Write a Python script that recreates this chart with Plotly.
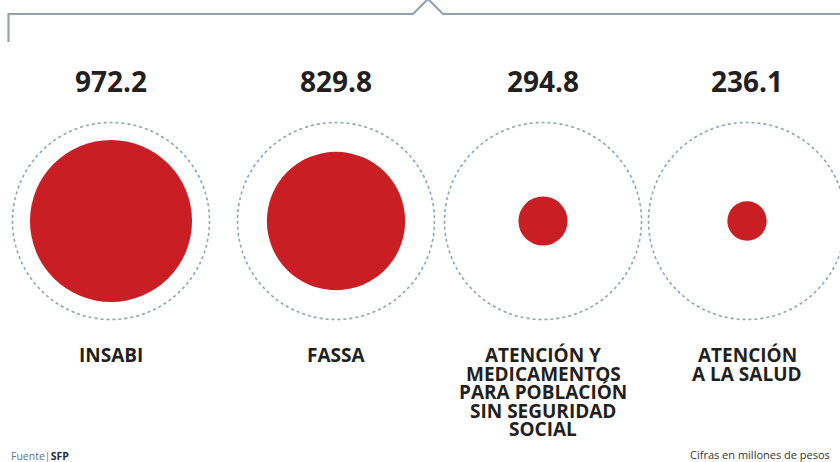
import plotly.graph_objects as go

# ---- data ----
categories = ["INSABI", "FASSA",
              "ATENCIÓN Y<br>MEDICAMENTOS<br>PARA POBLACIÓN<br>SIN SEGURIDAD<br>SOCIAL",
              "ATENCIÓN<br>A LA SALUD"]
values = [972.2, 829.8, 294.8, 236.1]
value_labels = ["972.2", "829.8", "294.8", "236.1"]
source_text = "Fuente<span style='color:#e8505b'>|</span><b style='color:#1f2a44'>SFP</b>"
note_text = "Cifras en millones de pesos"

# ---- layout constants ----
W, H = 840, 462
x_pos = [111, 336, 543, 747]
cy = 221
value_y = 85
label_y0 = 355
label_dy = 18.6
px_per_unit = 1 / 6.0          # red circle diameter (px) per million pesos
outer_r = 98.5
RED = "#c91f24"
GREY = "#8fa3b3"
DARK = "#231f20"
FONT = "Open Sans"

fig = go.Figure()

# red circles (diameter proportional to value)
fig.add_trace(go.Scatter(
    x=x_pos, y=[cy] * len(values), mode="markers",
    marker=dict(size=[v * px_per_unit for v in values], sizemode="diameter",
                color=RED, opacity=1, line=dict(width=0)),
    hoverinfo="skip", showlegend=False))

# value labels
fig.add_trace(go.Scatter(
    x=x_pos, y=[value_y] * len(values), mode="text", text=value_labels,
    textfont=dict(family=FONT, size=28, color=DARK, weight="bold"),
    textposition="middle center", hoverinfo="skip", showlegend=False))

shapes = []
# dotted outer rings
for xc in x_pos:
    shapes.append(dict(type="circle", xref="x", yref="y",
                       xsizemode="pixel", ysizemode="pixel",
                       xanchor=xc, yanchor=cy,
                       x0=-outer_r, x1=outer_r, y0=-outer_r, y1=outer_r,
                       line=dict(color=GREY, width=1.6, dash="dot")))
# bracket at the top
shapes.append(dict(type="path", xref="x", yref="y",
                   path="M 8.5 42 L 8.5 14 L 413 14 L 428 -1 L 443 14 L 850 14",
                   line=dict(color=GREY, width=2.2)))

annotations = []
for xc, cat in zip(x_pos, categories):
    for i, line in enumerate(cat.split("<br>")):
        annotations.append(dict(x=xc, y=label_y0 + i * label_dy, xref="x", yref="y",
                                text=line, showarrow=False,
                                xanchor="center", yanchor="middle",
                                font=dict(family=FONT, size=19, color=DARK, weight="bold")))
annotations.append(dict(x=9, y=456, xref="x", yref="y", text=source_text,
                        showarrow=False, xanchor="left", yanchor="middle",
                        font=dict(family=FONT, size=10.5, color="#5d6f8c")))
annotations.append(dict(x=688, y=454, xref="x", yref="y", text=note_text,
                        showarrow=False, xanchor="left", yanchor="middle",
                        font=dict(family=FONT, size=11, color="#333333")))

fig.update_layout(
    width=W, height=H, margin=dict(l=0, r=0, t=0, b=0),
    paper_bgcolor="white", plot_bgcolor="white",
    xaxis=dict(range=[0, W], visible=False, fixedrange=True),
    yaxis=dict(range=[H, 0], visible=False, fixedrange=True),
    shapes=shapes, annotations=annotations, showlegend=False)

fig.write_html("out.html")
